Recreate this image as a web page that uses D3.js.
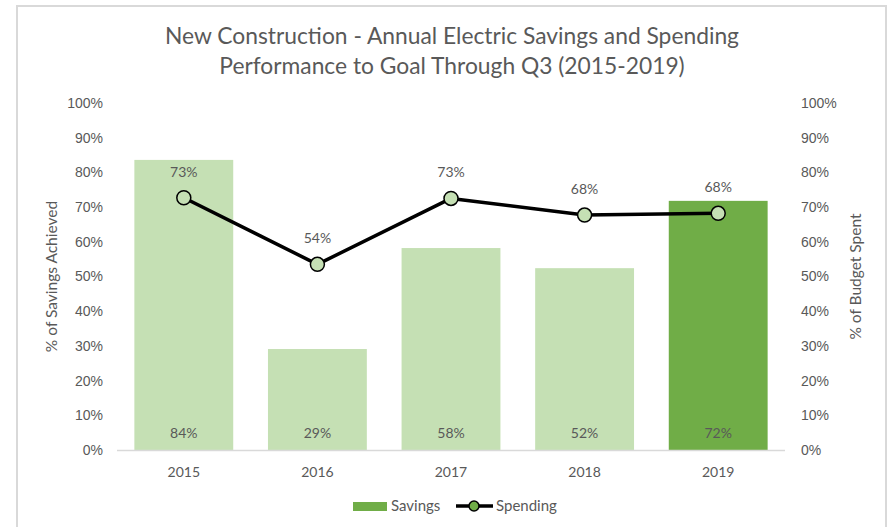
<!DOCTYPE html>
<html>
<head>
<meta charset="utf-8">
<script src="https://cdn.jsdelivr.net/npm/d3@7"></script>
<style>
  body { margin: 0; background: #fff; }
  svg { display: block; font-family: Lato, "Open Sans", sans-serif; }
</style>
</head>
<body>
<svg width="889" height="527"></svg>
<script>
'use strict'

const years = ['2015', '2016', '2017', '2018', '2019'];
const savings = [0.836, 0.291, 0.582, 0.524, 0.718];
const spending = [0.727, 0.535, 0.725, 0.677, 0.682];
const ticks = [0, 0.1, 0.2, 0.3, 0.4, 0.5, 0.6, 0.7, 0.8, 0.9, 1];

const TEXT = '#595959';
const LIGHT = '#c5e0b4';
const DARK = '#70ad47';

const svg = d3.select('svg');
const margin = { left: 117, right: 104, top: 103, bottom: 77 };
const width = 889 - margin.left - margin.right;
const height = 527 - margin.top - margin.bottom;

// chart border
svg.append('rect')
  .attr('x', 17).attr('y', 6)
  .attr('width', 869).attr('height', 540)
  .attr('fill', 'none')
  .attr('stroke', '#d9d9d9')
  .attr('stroke-width', 2);

// title
svg.append('text')
  .attr('x', 452).attr('y', 44)
  .attr('text-anchor', 'middle')
  .attr('font-size', 22.8)
  .attr('fill', TEXT)
  .text('New Construction - Annual Electric Savings and Spending');
svg.append('text')
  .attr('x', 452).attr('y', 74)
  .attr('text-anchor', 'middle')
  .attr('font-size', 22.8)
  .attr('fill', TEXT)
  .text('Performance to Goal Through Q3 (2015-2019)');

const g = svg.append('g').attr('transform', `translate(${margin.left},${margin.top})`);

const x = d3.scaleBand().domain(years).range([0, width]).paddingInner(0.26).paddingOuter(0.13);
const y = d3.scaleLinear().domain([0, 1]).range([height, 0]);
const y2 = d3.scaleLinear().domain([0, 1]).range([height, 0]);
const xc = d => x(d) + x.bandwidth() / 2;

// bars
g.selectAll('.bar')
  .data(years)
  .join('rect')
  .attr('class', 'bar')
  .attr('x', d => x(d))
  .attr('width', x.bandwidth())
  .attr('y', (d, i) => y(savings[i]))
  .attr('height', (d, i) => height - y(savings[i]))
  .attr('fill', (d, i) => i === years.length - 1 ? DARK : LIGHT);

// bar labels at bottom
g.selectAll('.barlab')
  .data(years)
  .join('text')
  .attr('x', xc)
  .attr('y', height - 12)
  .attr('text-anchor', 'middle')
  .attr('font-size', 14)
  .attr('fill', TEXT)
  .text((d, i) => d3.format('.0%')(savings[i]));

// x axis line
g.append('line')
  .attr('x1', 0).attr('x2', width)
  .attr('y1', height + 0.5).attr('y2', height + 0.5)
  .attr('stroke', '#d9d9d9').attr('stroke-width', 1.5);

// x labels
g.selectAll('.xlab')
  .data(years)
  .join('text')
  .attr('x', xc)
  .attr('y', height + 27)
  .attr('text-anchor', 'middle')
  .attr('font-size', 14)
  .attr('fill', TEXT)
  .text(d => d);

// left axis
const yAxis = g.append('g')
  .call(d3.axisLeft(y).tickValues(ticks).tickFormat(d3.format('.0%')).tickSize(0).tickPadding(14));
yAxis.select('.domain').remove();
yAxis.selectAll('text').attr('font-size', 14).attr('fill', TEXT).attr('font-family', null);

// right axis
const yAxis2 = g.append('g')
  .attr('transform', `translate(${width},0)`)
  .call(d3.axisRight(y2).tickValues(ticks).tickFormat(d3.format('.0%')).tickSize(0).tickPadding(16));
yAxis2.select('.domain').remove();
yAxis2.selectAll('text').attr('font-size', 14).attr('fill', TEXT).attr('font-family', null);

// axis titles
svg.append('text')
  .attr('transform', `translate(57,${margin.top + height / 2}) rotate(-90)`)
  .attr('text-anchor', 'middle')
  .attr('font-size', 15.5)
  .attr('fill', TEXT)
  .text('% of Savings Achieved');
svg.append('text')
  .attr('transform', `translate(861,${margin.top + height / 2}) rotate(-90)`)
  .attr('text-anchor', 'middle')
  .attr('font-size', 15.5)
  .attr('fill', TEXT)
  .text('% of Budget Spent');

// spending line
const line = d3.line()
  .x((d, i) => xc(years[i]))
  .y(d => y2(d));
g.append('path')
  .datum(spending)
  .attr('d', line)
  .attr('fill', 'none')
  .attr('stroke', '#000')
  .attr('stroke-width', 3.5)
  .attr('stroke-linejoin', 'round');

g.selectAll('.pt')
  .data(spending)
  .join('circle')
  .attr('cx', (d, i) => xc(years[i]))
  .attr('cy', d => y2(d))
  .attr('r', 7)
  .attr('fill', LIGHT)
  .attr('stroke', '#000')
  .attr('stroke-width', 1.5);

g.selectAll('.ptlab')
  .data(spending)
  .join('text')
  .attr('x', (d, i) => xc(years[i]))
  .attr('y', d => y2(d) - 21)
  .attr('text-anchor', 'middle')
  .attr('font-size', 14)
  .attr('fill', TEXT)
  .text(d => d3.format('.0%')(d));

// legend
const leg = svg.append('g');
leg.append('rect')
  .attr('x', 353).attr('y', 502)
  .attr('width', 34).attr('height', 9)
  .attr('fill', DARK);
leg.append('text')
  .attr('x', 391).attr('y', 511)
  .attr('font-size', 15)
  .attr('fill', TEXT)
  .text('Savings');
leg.append('line')
  .attr('x1', 456).attr('x2', 493)
  .attr('y1', 506).attr('y2', 506)
  .attr('stroke', '#000').attr('stroke-width', 3.5);
leg.append('circle')
  .attr('cx', 474).attr('cy', 506).attr('r', 5)
  .attr('fill', DARK)
  .attr('stroke', '#000').attr('stroke-width', 1.5);
leg.append('text')
  .attr('x', 496).attr('y', 511)
  .attr('font-size', 15)
  .attr('fill', TEXT)
  .text('Spending');
</script>
</body>
</html>
